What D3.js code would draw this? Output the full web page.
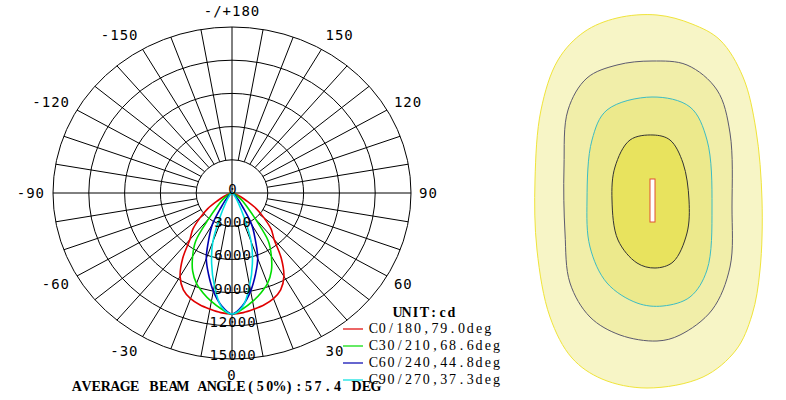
<!DOCTYPE html>
<html><head><meta charset="utf-8">
<script src="https://cdn.jsdelivr.net/npm/d3@7"></script>
<style>body{margin:0;background:#fff}svg{display:block}</style>
</head><body>
<svg id="c" width="786" height="400"></svg>
<script>
// ---------- data ----------
const gammas = [0,5,10,15,20,25,30,35,40,45,50,55,60,65,70,75,80,85,90];
const c0_180  = [10940,10850,10650,10450,10150,9650,8700,7200,5500,4650,3500,2500,1400,800,400,200,100,50,0];
const c30_210 = [10940,10500,9950,9350,8700,7800,6600,5300,3000,1800,1200,800,500,300,200,100,50,20,0];
const c60_240 = [10940,10200,9000,7600,6300,4600,3300,1600,900,500,300,200,100,60,40,20,10,5,0];
const c90_270 = [10940,10300,8500,6600,4700,2300,1100,600,350,200,120,80,50,30,20,10,5,0,0];
const seriesNames = ["C0/180,79.0deg","C30/210,68.6deg","C60/240,44.8deg","C90/270,37.3deg"];
const seriesColors = ["#e00000","#00dd00","#0000b0","#00e0e0"];
const ringValues = [3000,6000,9000,12000,15000];
const ringLabels = [0,3000,6000,9000,12000,15000];
const angleTicks = [180,-150,150,-120,120,-90,90,-60,60,-30,30,0];
const angleTickText = ["-/+180","-150","150","-120","120","-90","90","-60","60","-30","30","0"];
const unitText = "UNIT:cd";
const beamText = "AVERAGE BEAM ANGLE(50%):57.4 DEG";

// isolux contours (units, centre of luminaire = 0,0)
const isoOuter = [[0.5,-18.5],[4.0,-17.6],[6.8,-16.0],[9.1,-12.3],[10.4,-7.0],[11.0,0],[10.8,7.0],[10.0,11.5],[8.4,15.0],[5.1,17.7],[-0.5,18.8],[-5.0,17.9],[-8.0,15.8],[-10.2,11.7],[-11.5,5.0],[-11.7,-2.0],[-11.1,-9.0],[-9.4,-14.0],[-6.8,-16.8],[-3.5,-18.2]];
const iso2 = [[0,-13.9],[3.5,-13.5],[6.5,-11.0],[7.8,-6.7],[8.0,0.7],[7.8,6.7],[6.0,11.0],[2.8,13.5],[0.5,14.1],[-3.2,13.5],[-6.2,11.7],[-8.2,8.3],[-8.7,3.3],[-8.8,-3.3],[-8.4,-9.0],[-6.5,-12.2],[-3.5,-13.5]];
const iso3 = [[0,-10.3],[3.8,-9.3],[5.5,-6.0],[6.0,0.7],[5.5,7.0],[3.8,9.7],[1.1,10.6],[-1.5,10.3],[-4.5,8.3],[-6.2,4.7],[-6.5,0],[-6.0,-6.0],[-4.5,-9.0]];
const iso4 = [[0.1,-6.5],[1.8,-6.0],[3.1,-3.7],[3.7,0],[3.5,3.3],[2.1,6.2],[0.3,6.8],[-1.5,6.3],[-3.4,4.0],[-4.0,0],[-3.7,-3.3],[-2.2,-6.0]];
const isoShapes = [isoOuter, iso2, iso3, iso4];
const isoFills = ["#f7f5c6","#f1eea9","#ece98c","#e8e35e"];
const isoStrokes = ["#f0e43a","#5c5a6e","#3cbcc4","#333333"];
const lumRect = [[-0.2,-2.1],[0.3,2.2]];

// ---------- polar chart ----------
const svg = d3.select("#c");
const cx = 232, cy = 193;
const rX = d3.scaleLinear().domain([0,15000]).range([0,179]);
const rY = d3.scaleLinear().domain([0,15000]).range([0,166]);
const rad = d => d*Math.PI/180;
const pt = (theta, v) => [cx + rX(v)*Math.sin(rad(theta)), cy + rY(v)*Math.cos(rad(theta))];

const grid = svg.append("g").attr("stroke","#000").attr("stroke-width",1).attr("fill","none");
ringValues.forEach(v => {
  grid.append("ellipse").attr("cx",cx).attr("cy",cy).attr("rx",rX(v)).attr("ry",rY(v))
    .attr("fill", v===ringValues[0] ? "#fff" : "none");
});
d3.range(-170,190,10).forEach(a => {
  const from = (a % 90 === 0) ? 0 : ringValues[0];
  const p0 = pt(a, from), p1 = pt(a, ringValues[ringValues.length-1]);
  grid.append("line").attr("x1",p0[0]).attr("y1",p0[1]).attr("x2",p1[0]).attr("y2",p1[1]);
});

const series = [c0_180, c30_210, c60_240, c90_270];
const line = d3.line().curve(d3.curveCatmullRom.alpha(0.5));
series.forEach((vals, i) => {
  const pts = [];
  for (let k = gammas.length-1; k >= 1; k--) pts.push(pt(-gammas[k], vals[k]));
  for (let k = 0; k < gammas.length; k++) pts.push(pt(gammas[k], vals[k]));
  svg.append("path").attr("d", line(pts)).attr("fill","none")
    .attr("stroke", seriesColors[i]).attr("stroke-width",1.6);
});

// radial value labels
svg.append("g").selectAll("text").data(ringLabels).join("text")
  .attr("x", cx + 1).attr("y", d => cy + rY(d) + 1)
  .attr("text-anchor","middle")
  .style("font-family","DejaVu Sans Mono").style("font-size","14px").style("letter-spacing","1px")
  .attr("fill","#000").text(d => d);

// angle labels
const labRX = 187, labRY = 182;
svg.append("g").selectAll("text").data(angleTicks).join("text")
  .attr("x", d => cx + labRX*Math.sin(rad(d)))
  .attr("y", d => cy + labRY*Math.cos(rad(d)))
  .attr("dy","0.36em")
  .attr("text-anchor", d => (d===0||d===180) ? "middle" : (d<0 ? "end" : "start"))
  .style("font-family","DejaVu Sans Mono").style("font-size","14px").style("letter-spacing","1px")
  .attr("fill","#000").text((d,i) => angleTickText[i]);

// Courier-like fixed-pitch serif text: one tspan per character on a fixed grid
function monoText(str, x0, y, pitch, size, bold) {
  const t = svg.append("text").attr("y", y)
    .style("font-family","Liberation Serif").style("font-size", size+"px")
    .style("font-weight", bold ? "bold" : "normal").attr("text-anchor","middle");
  t.selectAll("tspan").data(str.split("")).join("tspan")
    .attr("x", (c,i) => x0 + i*pitch + pitch/2).text(c => c);
  return t;
}

monoText(unitText, 393, 317, 9, 14, true);
seriesNames.forEach((n,i) => {
  const y = 329 + i*17;
  svg.append("line").attr("x1",343).attr("x2",363).attr("y1",y).attr("y2",y)
    .attr("stroke",seriesColors[i]).attr("stroke-width",1.2);
  monoText(n, 369, y+4, 8.8, 14, false);
});
monoText(beamText, 72, 391, 9.65, 14, true);

// ---------- isolux plot ----------
const xs = d3.scaleLinear().domain([-10,10]).range([552,752]);
const ys = d3.scaleLinear().domain([-10,10]).range([100,300]);
const closed = d3.line().x(d => xs(d[0])).y(d => ys(d[1])).curve(d3.curveCatmullRomClosed.alpha(0.5));
isoShapes.forEach((s,i) => {
  svg.append("path").attr("d", closed(s)).attr("fill", isoFills[i])
    .attr("stroke", isoStrokes[i]).attr("stroke-width", 1);
});
svg.append("rect")
  .attr("x", xs(lumRect[0][0])).attr("y", ys(lumRect[0][1]))
  .attr("width", xs(lumRect[1][0]) - xs(lumRect[0][0]))
  .attr("height", ys(lumRect[1][1]) - ys(lumRect[0][1]))
  .attr("fill","#fff").attr("stroke","#e05030").attr("stroke-width",1);
</script>
</body></html>
